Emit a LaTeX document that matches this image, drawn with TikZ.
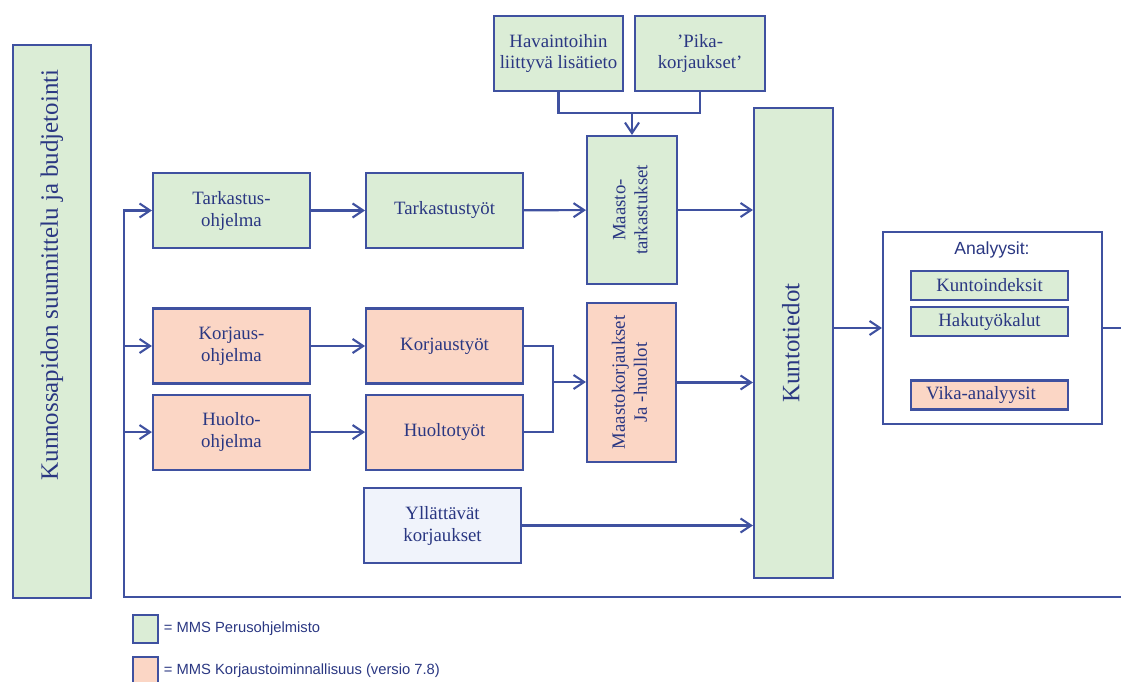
\documentclass[tikz,border=0pt]{standalone}
\usepackage{fontspec}
\setmainfont{Liberation Serif}
\setsansfont{Liberation Sans}
\usetikzlibrary{arrows.meta,positioning}
\usepackage{xcolor}
\definecolor{lineblue}{RGB}{63,81,160}
\definecolor{textblue}{RGB}{42,55,130}
\definecolor{mmsgreen}{RGB}{219,237,214}
\definecolor{mmspeach}{RGB}{251,214,197}
\definecolor{mmspale}{RGB}{240,243,251}
\newcommand{\vtext}[1]{\rotatebox{90}{\begin{tabular}{@{}c@{}}#1\end{tabular}}}

\begin{document}
\begin{tikzpicture}[
  x=0.02cm, y=-0.02cm,
  font=\fontsize{10.7}{12.5}\selectfont,
  box/.style={draw=lineblue, line width=1.2pt, text=textblue, align=center, inner sep=2pt,
              minimum width=3.14cm, minimum height=1.5cm},
  gbox/.style={box, fill=mmsgreen},
  rbox/.style={box, fill=mmspeach},
  big/.style={font=\fontsize{14.2}{17}\selectfont},
  small/.style={minimum height=0.58cm},
  legtext/.style={text=textblue, inner sep=0pt, font=\sffamily\fontsize{8.4}{10}\selectfont},
  arr/.style={-{Straight Barb[length=6pt,width=8pt]}, draw=lineblue, line width=1.2pt},
  lin/.style={draw=lineblue, line width=1.2pt}
]
\useasboundingbox (0,0) rectangle (1121,682);

% planning column and condition data
\node[gbox, minimum width=1.56cm, minimum height=11.06cm] (plan) at (52,321.5) {};
\node[big, text=textblue] (plantxt) at (52,275) {\vtext{Kunnossapidon suunnittelu ja budjetointi}};
\node[gbox, big, minimum width=1.58cm, minimum height=9.4cm] (kunto) at (793.5,343)
  {\vtext{Kuntotiedot}};

% inspection row
\node[gbox] (tohj) at (231.5,210.5) {Tarkastus-\\ohjelma};
\node[gbox, right=1.08cm of tohj] (ttyo) {Tarkastustyöt};
\node[gbox, minimum width=1.8cm, minimum height=2.96cm] (mtark) at (632,210)
  {\vtext{Maasto-\\tarkastukset}};
\node[gbox, minimum width=2.58cm] (hav) at (558.5,53.5) {Havaintoihin\\liittyvä lisätieto};
\node[gbox, minimum width=2.6cm, right=0.2cm of hav] (pika) {’Pika-\\korjaukset’};

% repair and maintenance rows
\node[rbox] (kohj) at (231.5,346) {Korjaus-\\ohjelma};
\node[rbox, below=0.18cm of kohj] (hohj) {Huolto-\\ohjelma};
\node[rbox, right=1.08cm of kohj] (ktyo) {Korjaustyöt};
\node[rbox, right=1.08cm of hohj] (htyo) {Huoltotyöt};
\node[rbox, minimum width=1.78cm, minimum height=3.18cm] (mkorj) at (631.5,382.5)
  {\vtext{Maastokorjaukset\\Ja -huollot}};
\node[box, fill=mmspale] (yll) at (442.5,525.5) {Yllättävät\\korjaukset};

% analyses
\node[box, fill=white, minimum width=4.38cm, minimum height=3.84cm] (anal) at (992.5,328) {};
\node[legtext, font=\sffamily\fontsize{10}{12}\selectfont] (atitle) at (992,250) {Analyysit:};
\node[gbox, small] (ki) at (989.5,285.5) {Kuntoindeksit};
\node[gbox, small, below=0.1cm of ki] (hk) {Hakutyökalut};
\node[rbox, small] (vika) at (989.5,395) {Vika-analyysit\hspace{0.34cm}};

% legend
\node[gbox, minimum width=0.5cm, minimum height=0.56cm, inner sep=0pt] (lg1) at (145.5,629) {};
\node[legtext, right=0.09cm of lg1] (lt1) {= MMS Perusohjelmisto};
\node[rbox, minimum width=0.5cm, minimum height=0.56cm, inner sep=0pt] (lg2) at (145.5,671) {};
\node[legtext, right=0.09cm of lg2] (lt2) {= MMS Korjaustoiminnallisuus (versio 7.8)};

% helper points
\coordinate (loopR) at (1121,597);
\coordinate (loopL) at (124,597);
\coordinate (outR) at (1121,328);
\coordinate (join) at (632,113);
\coordinate (merge) at (553,382);

% connectors
\draw[arr] (loopR) -- (loopL) |- (tohj);
\draw[arr] (loopL |- kohj) -- (kohj);
\draw[arr] (loopL |- hohj) -- (hohj);
\draw[arr] (tohj) -- (ttyo);
\draw[arr] (ttyo) -- (mtark);
\draw[arr] (kohj) -- (ktyo);
\draw[arr] (hohj) -- (htyo);
\draw[lin] (hav) |- (join) -| (pika);
\draw[arr] (join) -- (mtark);
\draw[lin] (ktyo.east) -| (merge) |- (htyo.east);
\draw[arr] (merge) -- (merge -| mkorj.west);
\draw[arr] (mtark) -- (mtark -| kunto.west);
\draw[arr] (mkorj) -- (mkorj -| kunto.west);
\draw[arr] (yll) -- (yll -| kunto.west);
\draw[arr] (anal -| kunto.east) -- (anal);
\draw[lin] (anal) -- (outR);
\end{tikzpicture}
\end{document}
